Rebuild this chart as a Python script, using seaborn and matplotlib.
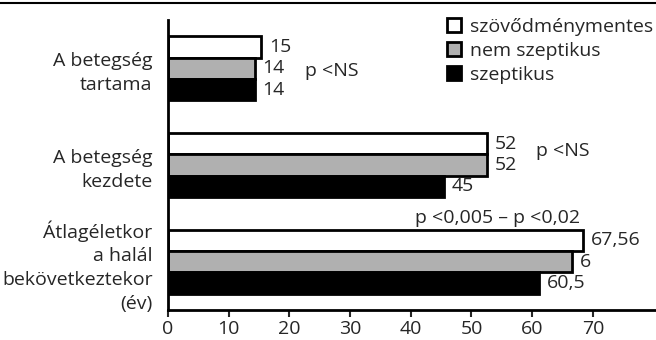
import pandas as pd
import numpy as np
import matplotlib.pyplot as plt
import seaborn as sns
from matplotlib.patches import Patch
from matplotlib.lines import Line2D

sns.set_style("white")
plt.rcParams["font.family"] = ["Open Sans", "DejaVu Sans"]
FS = 14

# DATA
groups = ["A betegség\ntartama", "A betegség\nkezdete",
          "Átlagéletkor\na halál\nbekövetkeztekor\n(év)"]
series = ["szövődménymentes", "nem szeptikus", "szeptikus"]
vals_free = [15.3, 52.5, 68.3]
vals_nonsep = [14.3, 52.5, 66.6]
vals_sep = [14.3, 45.5, 61.2]
labels_free = ["15", "52", "67,56"]
labels_nonsep = ["14", "52", "6"]
labels_sep = ["14", "45", "60,5"]
p_texts = ["p <NS", "p <NS", "p <0,005 – p <0,02"]
colors = ["white", "#b0b0b0", "black"]

rows = []
for s, vals in zip(series, [vals_free, vals_nonsep, vals_sep]):
    for g, v in zip(groups, vals):
        rows.append({"group": g, "series": s, "value": v})
df = pd.DataFrame(rows)

fig = plt.figure(figsize=(6.56, 3.4), dpi=100)
ax = fig.add_axes([168 / 656, 30 / 340, 1 - 168 / 656, 290 / 340])

sns.barplot(data=df, y="group", x="value", hue="series", order=groups,
            hue_order=series, palette=colors, orient="h", width=0.66,
            edgecolor="black", linewidth=2, ax=ax, legend=False)

ax.set_xlim(0, 80.4)
ax.set_ylim(2.5, -0.5)
ax.set_xticks(range(0, 80, 10))
ax.set_xlabel("")
ax.set_ylabel("")
ax.tick_params(axis="x", length=5, width=1.5, direction="out", labelsize=FS, pad=2, bottom=True)
ax.tick_params(axis="y", length=0, labelsize=FS, pad=11)
for lab in ax.get_yticklabels():
    lab.set_horizontalalignment("right")
    lab.set_multialignment("right")
    lab.set_linespacing(1.4)
for side in ["top", "right"]:
    ax.spines[side].set_visible(False)
for side in ["left", "bottom"]:
    ax.spines[side].set_linewidth(2)
    ax.spines[side].set_color("black")

# value labels
bar_h = 0.66 / 3
for k, (vals, labs) in enumerate(zip([vals_free, vals_nonsep, vals_sep],
                                     [labels_free, labels_nonsep, labels_sep])):
    for i, (v, t) in enumerate(zip(vals, labs)):
        y = i - 0.33 + bar_h * (k + 0.5)
        ax.text(v + 1.3, y, t, va="center", ha="left", fontsize=FS)

# p-value annotations
ax.text(22.6, 0.03, p_texts[0], va="center", ha="left", fontsize=FS)
ax.text(60.6, 0.86, p_texts[1], va="center", ha="left", fontsize=FS)
ax.text(54.3, 1.55, p_texts[2], va="center", ha="center", fontsize=FS)

# legend
handles = [Patch(facecolor=c, edgecolor="black", linewidth=2) for c in colors]
fig.legend(handles, series, loc="upper left", bbox_to_anchor=(447 / 656, 1 - 18 / 340),
           frameon=False, fontsize=FS, handlelength=0.72, handleheight=0.72,
           handletextpad=0.45, labelspacing=0.3, borderaxespad=0, borderpad=0)

fig.add_artist(Line2D([0, 1], [1 - 3 / 340, 1 - 3 / 340], color="black", linewidth=1.5,
                      transform=fig.transFigure))

fig.savefig("out.png", dpi=100)
